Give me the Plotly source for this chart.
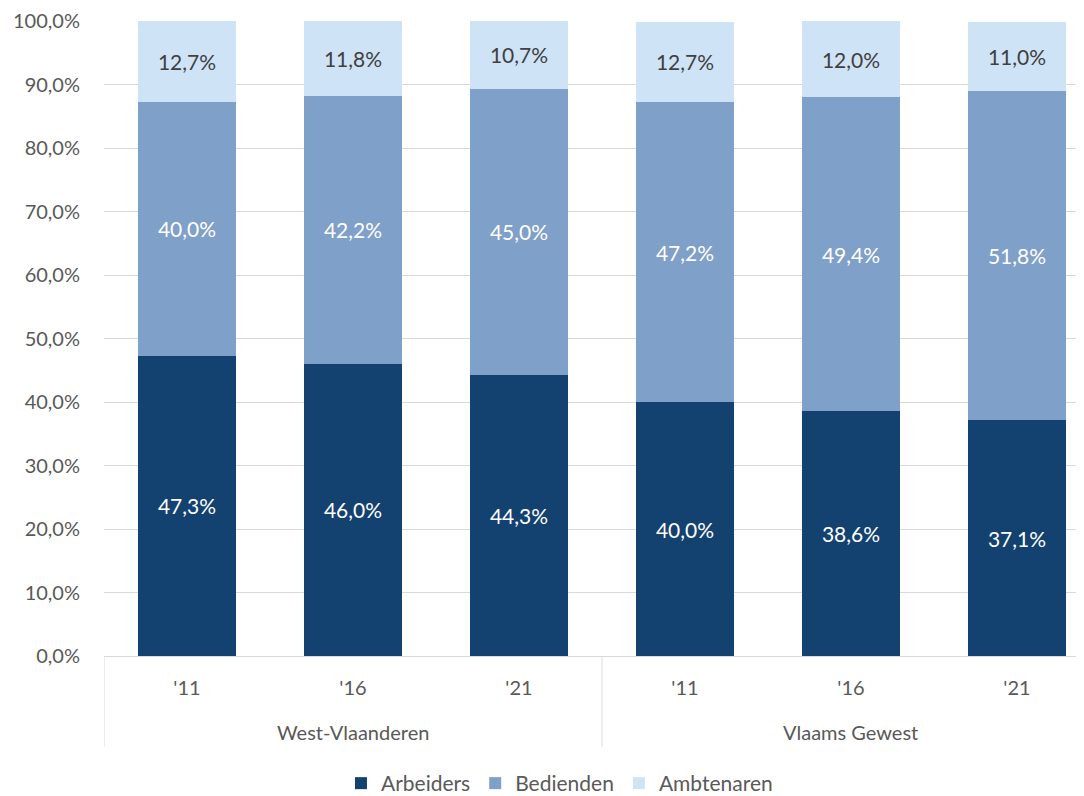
import plotly.graph_objects as go

regions = ["West-Vlaanderen", "Vlaams Gewest"]
years = ["'11", "'16", "'21"]

arbeiders = [47.3, 46.0, 44.3, 40.0, 38.6, 37.1]
bedienden = [40.0, 42.2, 45.0, 47.2, 49.4, 51.8]
ambtenaren = [12.7, 11.8, 10.7, 12.7, 12.0, 11.0]

cats = [f"{r} {y}" for r in regions for y in years]
ticktext = [y for r in regions for y in years]

series = [
    ("Arbeiders", arbeiders, "#134170", "white"),
    ("Bedienden", bedienden, "#7fa0c8", "white"),
    ("Ambtenaren", ambtenaren, "#cfe3f7", "#404040"),
]

FONT = "Lato"
GREY = "#595959"
LINE = "#d9d9d9"

fig = go.Figure()
for name, vals, color, tcolor in series:
    fig.add_trace(go.Bar(
        name=name,
        x=cats,
        y=vals,
        marker=dict(color=color, line=dict(width=0)),
        width=0.59,
        text=[f"{v:.1f}%".replace(".", ",") for v in vals],
        textposition="inside",
        insidetextanchor="middle",
        textangle=0,
        constraintext="none",
        textfont=dict(color=tcolor, size=21, family=FONT),
        hoverinfo="skip",
    ))

# group labels and dividers (category boundaries)
n = len(years)
for gi, r in enumerate(regions):
    fig.add_annotation(
        x=gi * n + (n - 1) / 2, xref="x",
        y=-0.1195, yref="paper",
        text=r, showarrow=False,
        font=dict(size=20, color=GREY, family=FONT),
        xanchor="center", yanchor="middle",
    )
for b in range(len(regions) + 1):
    fig.add_shape(
        type="line", xref="x", yref="paper",
        x0=b * n - 0.5, x1=b * n - 0.5, y0=0, y1=-0.143,
        line=dict(color=LINE, width=1),
    )

fig.update_layout(
    barmode="stack",
    width=1084,
    height=796,
    paper_bgcolor="white",
    plot_bgcolor="white",
    margin=dict(l=96, r=0, t=13, b=147),
    font=dict(family=FONT, size=20, color=GREY),
    showlegend=True,
    legend=dict(
        orientation="h",
        x=0.461,
        xanchor="center",
        y=-0.2013,
        yanchor="middle",
        font=dict(size=21, color=GREY),
        traceorder="normal",
    ),
    xaxis=dict(
        type="category",
        categoryorder="array",
        categoryarray=cats,
        tickvals=cats,
        ticktext=ticktext,
        range=[-0.5, 5.452],
        showline=True,
        linecolor=LINE,
        linewidth=1,
        tickfont=dict(size=20, color=GREY),
        ticklabelstandoff=14,
        automargin=False,
        ticks="",
    ),
    yaxis=dict(
        range=[0, 100],
        dtick=10,
        tickformat=".1f",
        ticksuffix="%",
        showgrid=True,
        gridcolor=LINE,
        gridwidth=1,
        zeroline=False,
        showline=False,
        tickfont=dict(size=20, color=GREY),
        ticklabelstandoff=23,
        automargin=False,
    ),
    separators=",.",
)

fig.write_html("out.html")
